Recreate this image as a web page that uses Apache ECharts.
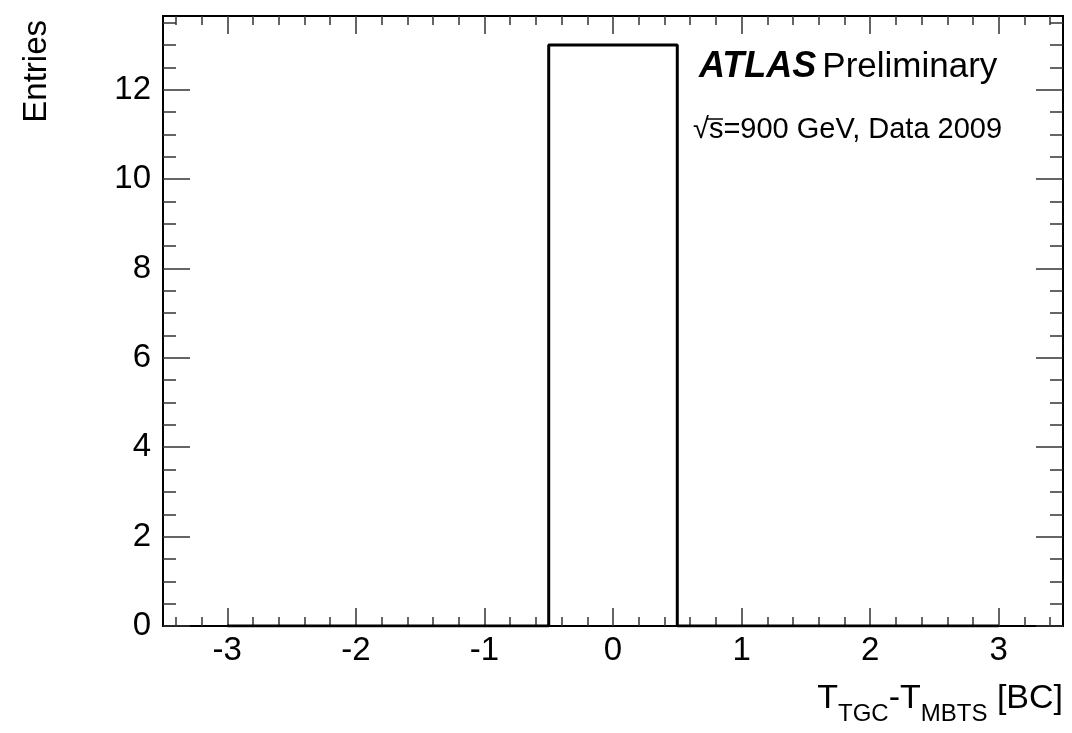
<!DOCTYPE html>
<html>
<head>
<meta charset="utf-8">
<script src="https://cdn.jsdelivr.net/npm/echarts@6/dist/echarts.min.js"></script>
<style>
html, body { margin: 0; padding: 0; background: #fff; }
#main { width: 1072px; height: 733px; }
</style>
</head>
<body>
<div id="main"></div>
<script>
// histogram bins (bin centres) and entries
var binCenters = [-3, -2, -1, 0, 1, 2, 3];
var entries = [0, 0, 0, 13, 0, 0, 0];

// axis ticks
var xMajor = [-3, -2, -1, 0, 1, 2, 3];
var yMajor = [0, 2, 4, 6, 8, 10, 12];

var xMinor = [];
for (var i = -17; i <= 17; i++) { if (i % 5 != 0) xMinor.push(i / 5); }
var yMinor = [];
for (var j = 1; j <= 27; j++) { if (j % 4 != 0) yMinor.push(j / 2); }

var font = 'Liberation Sans, Arial, Helvetica, sans-serif';
var black = '#000';

function xAx(pos, ticks, len, labels) {
	return {
		type: 'value', position: pos, min: -3.5, max: 3.5,
		axisLine: { show: true, onZero: false, lineStyle: { color: black, width: 2 } },
		axisTick: { show: true, inside: true, length: len, customValues: ticks, lineStyle: { color: '#333', width: 1.5 } },
		axisLabel: labels ? { show: true, customValues: ticks, fontSize: 33, fontFamily: font, color: black, margin: 8 } : { show: false },
		splitLine: { show: false }
	};
}
function yAx(pos, ticks, len, labels) {
	return {
		type: 'value', position: pos, min: 0, max: 13.65,
		axisLine: { show: true, onZero: false, lineStyle: { color: black, width: 2 } },
		axisTick: { show: true, inside: true, length: len, customValues: ticks, lineStyle: { color: '#333', width: 1.5 } },
		axisLabel: labels ? { show: true, customValues: ticks, fontSize: 33, fontFamily: font, color: black, margin: 12 } : { show: false },
		splitLine: { show: false }
	};
}

var chart = echarts.init(document.getElementById('main'));
var data = binCenters.map(function(c, k) { return [c, entries[k]]; });

chart.setOption({
	animation: false,
	backgroundColor: '#fff',
	grid: { left: 163, right: 9, top: 16, bottom: 107, containLabel: false },
	xAxis: [
		xAx('bottom', xMajor, 18, true),
		xAx('bottom', xMinor, 9, false),
		xAx('top', xMajor, 18, false),
		xAx('top', xMinor, 9, false)
	],
	yAxis: [
		yAx('left', yMajor, 27, true),
		yAx('left', yMinor, 13, false),
		yAx('right', yMajor, 27, false),
		yAx('right', yMinor, 13, false)
	],
	series: [{
		type: 'line',
		xAxisIndex: 0,
		yAxisIndex: 0,
		step: 'middle',
		symbol: 'none',
		data: data,
		lineStyle: { color: black, width: 3 }
	}],
	graphic: [
		{
			type: 'text', x: 37, y: 20, rotation: Math.PI / 2,
			style: { text: 'Entries', font: '33px ' + font, fill: black, align: 'right', verticalAlign: 'middle' }
		},
		{
			type: 'text', x: 1063, y: 682,
			style: {
				text: '{n|T}{s|TGC}{n|-T}{s|MBTS}{n| [BC]}',
				align: 'right', verticalAlign: 'top',
				rich: {
					n: { fontSize: 34, fontFamily: font, fill: black, lineHeight: 34, verticalAlign: 'top' },
					s: { fontSize: 24, fontFamily: font, fill: black, lineHeight: 24, padding: [20, 0, 0, 0], verticalAlign: 'top' }
				}
			}
		},
		{
			type: 'text', x: 699, y: 85,
			style: {
				text: '{a|ATLAS}{b|Preliminary}',
				verticalAlign: 'bottom',
				rich: {
					a: { fontSize: 36, fontFamily: font, fontWeight: 'bold', fontStyle: 'italic', fill: black },
					b: { fontSize: 35, fontFamily: font, fill: black, padding: [0, 0, 0, 6] }
				}
			}
		},
		{
			type: 'text', x: 693, y: 144,
			style: { text: '\u221As=900 GeV, Data 2009', font: '29px ' + font, fill: black, verticalAlign: 'bottom' }
		},
		{
			type: 'line', shape: { x1: 706, y1: 119, x2: 723, y2: 119 },
			style: { stroke: black, lineWidth: 1.5 }
		}
	]
});
</script>
</body>
</html>
